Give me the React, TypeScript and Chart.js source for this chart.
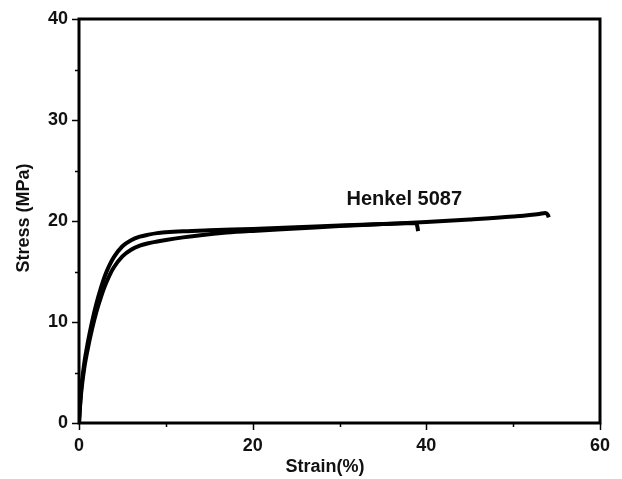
import React, { useEffect, useRef } from "react";
import { Chart, registerables } from "chart.js";

Chart.register(...registerables);

// Curve 1 (shorter specimen, breaks near 39 %)
const strainA = [0, 0.15, 0.3, 0.6, 1, 1.5, 2, 2.5, 3, 3.5, 4, 5, 6, 7, 8, 9, 10, 12, 15, 20, 25, 30, 35, 38.8, 38.95, 39.05];
const stressA = [0, 2.2, 3.8, 5.9, 7.9, 10.0, 11.8, 13.3, 14.6, 15.6, 16.4, 17.5, 18.1, 18.45, 18.65, 18.8, 18.88, 18.98, 19.08, 19.22, 19.38, 19.55, 19.7, 19.8, 19.5, 19.0];
// Curve 2 (longer specimen, breaks near 54 %)
const strainB = [0, 0.15, 0.3, 0.6, 1, 1.5, 2, 2.5, 3, 3.5, 4, 5, 6, 7, 8, 9, 10, 12, 14, 17, 20, 25, 30, 35, 40, 45, 50, 53, 53.7, 54.0, 54.1];
const stressB = [0, 2.0, 3.4, 5.4, 7.3, 9.3, 11.0, 12.4, 13.6, 14.6, 15.4, 16.5, 17.15, 17.55, 17.8, 17.97, 18.12, 18.38, 18.6, 18.85, 19.02, 19.25, 19.5, 19.7, 19.9, 20.15, 20.45, 20.7, 20.8, 20.6, 20.35];

const xMajorTicks = [0, 20, 40, 60];
const xMinorTicks = [10, 30, 50];
const yMajorTicks = [0, 10, 20, 30, 40];
const yMinorTicks = [5, 15, 25, 35];

const seriesLabel = "Henkel 5087";
const labelPos = { x: 30.8, y: 21.6 };
const xTitle = "Strain(%)";
const yTitle = "Stress (MPa)";

const toPoints = (xs: number[], ys: number[]) => xs.map((x, i) => ({ x, y: ys[i] }));

const framePlugin = {
  id: "frameTicks",
  afterDraw(chart: any) {
    const { ctx, chartArea, scales } = chart;
    const xs = scales.x;
    const ys = scales.y;
    ctx.save();
    ctx.strokeStyle = "#000";
    ctx.lineWidth = 3;
    ctx.strokeRect(chartArea.left, chartArea.top, chartArea.right - chartArea.left, chartArea.bottom - chartArea.top);
    ctx.lineWidth = 1.5;
    ctx.beginPath();
    for (const v of yMajorTicks) {
      const p = Math.round(ys.getPixelForValue(v)) + 0.5;
      ctx.moveTo(chartArea.left - 7, p);
      ctx.lineTo(chartArea.left, p);
    }
    for (const v of yMinorTicks) {
      const p = Math.round(ys.getPixelForValue(v)) + 0.5;
      ctx.moveTo(chartArea.left - 4, p);
      ctx.lineTo(chartArea.left, p);
    }
    for (const v of xMajorTicks) {
      const p = Math.round(xs.getPixelForValue(v)) + 0.5;
      ctx.moveTo(p, chartArea.bottom);
      ctx.lineTo(p, chartArea.bottom + 7);
    }
    for (const v of xMinorTicks) {
      const p = Math.round(xs.getPixelForValue(v)) + 0.5;
      ctx.moveTo(p, chartArea.bottom);
      ctx.lineTo(p, chartArea.bottom + 4);
    }
    ctx.stroke();

    ctx.fillStyle = "#111";
    ctx.font = "bold 18px 'Liberation Sans', Arial, sans-serif";
    ctx.textAlign = "right";
    ctx.textBaseline = "middle";
    for (const v of yMajorTicks) {
      ctx.fillText(String(v), chartArea.left - 11, ys.getPixelForValue(v));
    }
    ctx.textAlign = "center";
    ctx.textBaseline = "middle";
    for (const v of xMajorTicks) {
      ctx.fillText(String(v), xs.getPixelForValue(v), chartArea.bottom + 23);
    }

    ctx.font = "bold 18px 'Liberation Sans', Arial, sans-serif";
    ctx.textAlign = "center";
    ctx.textBaseline = "middle";
    ctx.fillText(xTitle, 325, 467);
    ctx.save();
    ctx.translate(24, 218);
    ctx.rotate(-Math.PI / 2);
    ctx.fillText(yTitle, 0, 0);
    ctx.restore();

    ctx.font = "bold 20px 'Liberation Sans', Arial, sans-serif";
    ctx.textAlign = "left";
    ctx.textBaseline = "alphabetic";
    ctx.fillText(seriesLabel, xs.getPixelForValue(labelPos.x), ys.getPixelForValue(labelPos.y));
    ctx.restore();
  },
};

export default function App() {
  const ref = useRef<HTMLCanvasElement | null>(null);
  useEffect(() => {
    if (!ref.current) return;
    const chart = new Chart(ref.current, {
      type: "scatter",
      data: {
        datasets: [
          {
            data: toPoints(strainA, stressA),
            showLine: true,
            borderColor: "#000",
            borderWidth: 4,
            pointRadius: 0,
            cubicInterpolationMode: "monotone",
          },
          {
            data: toPoints(strainB, stressB),
            showLine: true,
            borderColor: "#000",
            borderWidth: 4,
            pointRadius: 0,
            cubicInterpolationMode: "monotone",
          },
        ],
      },
      options: {
        animation: false,
        responsive: false,
        layout: { padding: { left: 0, top: 19, right: 22, bottom: 0 } },
        plugins: { legend: { display: false }, tooltip: { enabled: false } },
        scales: {
          x: {
            type: "linear",
            min: 0,
            max: 60,
            grid: { display: false },
            border: { display: false },
            ticks: { display: false },
            afterFit: (s: any) => { s.height = 56; },
          },
          y: {
            type: "linear",
            min: 0,
            max: 40,
            grid: { display: false },
            border: { display: false },
            ticks: { display: false },
            afterFit: (s: any) => { s.width = 79; },
          },
        },
      },
      plugins: [framePlugin],
    } as any);
    return () => chart.destroy();
  }, []);
  return (
    <div style={{ position: "fixed", left: 0, top: 0, width: 622, height: 479, background: "#fff" }}>
      <canvas ref={ref} width={622} height={479} style={{ display: "block" }} />
    </div>
  );
}
